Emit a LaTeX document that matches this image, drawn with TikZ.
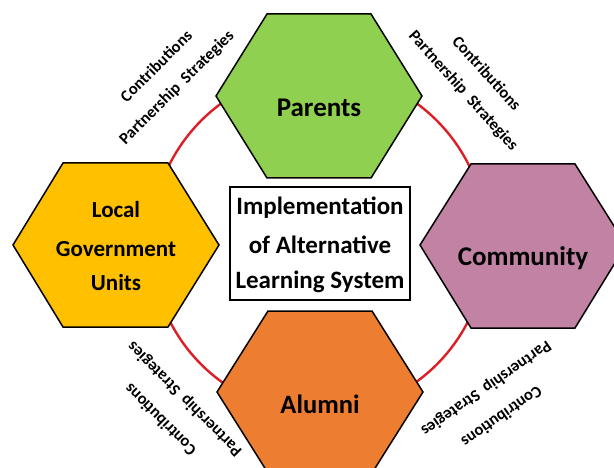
\documentclass[tikz,border=0pt]{standalone}
\usepackage{fontspec}
\setmainfont{Carlito}
\definecolor{pgreen}{HTML}{90D050}
\definecolor{lgold}{HTML}{FFC000}
\definecolor{cmauve}{HTML}{C182A4}
\definecolor{aorange}{HTML}{ED7D31}
\definecolor{ringred}{HTML}{DC1F26}
\tikzset{
  x=1pt,y=-1pt,
  hexa/.style={draw=black,line width=1.5pt,line join=miter},
  hexlabel/.style={font=\bfseries\fontsize{#1}{#1}\selectfont,text=black,inner sep=0pt,align=center},
  hexlabel/.default=27,
  sidetext/.style={font=\bfseries\fontsize{16.5}{17}\selectfont,text=black,inner sep=0pt},
  ring/.style={draw=ringred,line width=2.4pt},
  centerbox/.style={draw=black,fill=white,line width=1.5pt,minimum width=180pt,minimum height=113pt,inner sep=0pt},
  boxtext/.style={font=\bfseries\fontsize{25}{25}\selectfont,text=black,inner sep=0pt}
}
\begin{document}
\begin{tikzpicture}
\useasboundingbox (0,0) rectangle (614,468);
\coordinate (ringcentre) at (319,242.5);
\draw[ring] (ringcentre) ellipse[x radius=168,y radius=171];
\begin{scope}
\clip (0,0) rectangle (614,468);
\draw[hexa,fill=pgreen] (216,96)--(267,14)--(371,14)--(422,96)--(371,178)--(267,178)--cycle;
\draw[hexa,fill=lgold] (13,245)--(63,163)--(168,163)--(219,245)--(168,327)--(63,327)--cycle;
\draw[hexa,fill=cmauve] (420,245)--(471,164)--(575,164)--(626,245)--(575,328)--(471,328)--cycle;
\draw[hexa,fill=aorange] (217,392)--(268,311)--(372,311)--(423,392)--(372,473)--(268,473)--cycle;
\end{scope}
\node[hexlabel] (parents) at (319,108) {Parents};
\node[hexlabel=23] (lgu1) at (116,210) {Local};
\node[hexlabel=23] (lgu2) at (116,249) {Government};
\node[hexlabel=23] (lgu3) at (116,283) {Units};
\node[hexlabel] (community) at (523,258) {Community};
\node[hexlabel=26.5] (alumni) at (320,404) {Alumni};
\node[centerbox] (system) at (320,243.5) {};
\node[boxtext] (line1) at (320,208) {Implementation};
\node[boxtext] (line2) at (320,245) {of Alternative};
\node[boxtext] (line3) at (320,282) {Learning System};
\node[sidetext,rotate=45] (c1) at (156,66) {Contributions};
\node[sidetext,rotate=45] (p1) at (177,88) {Partnership\ \ Strategies};
\node[sidetext,rotate=-48] (c2) at (487,73) {Contributions};
\node[sidetext,rotate=-48] (p2) at (463,91) {Partnership\ \ Strategies};
\node[sidetext,rotate=135] (p3) at (185,399) {Partnership\ \ Strategies};
\node[sidetext,rotate=135] (c3) at (160,420) {Contributions};
\node[sidetext,rotate=215] (p4) at (486,388) {Partnership\ \ Strategies};
\node[sidetext,rotate=215] (c4) at (502,417) {Contributions};
\end{tikzpicture}
\end{document}
